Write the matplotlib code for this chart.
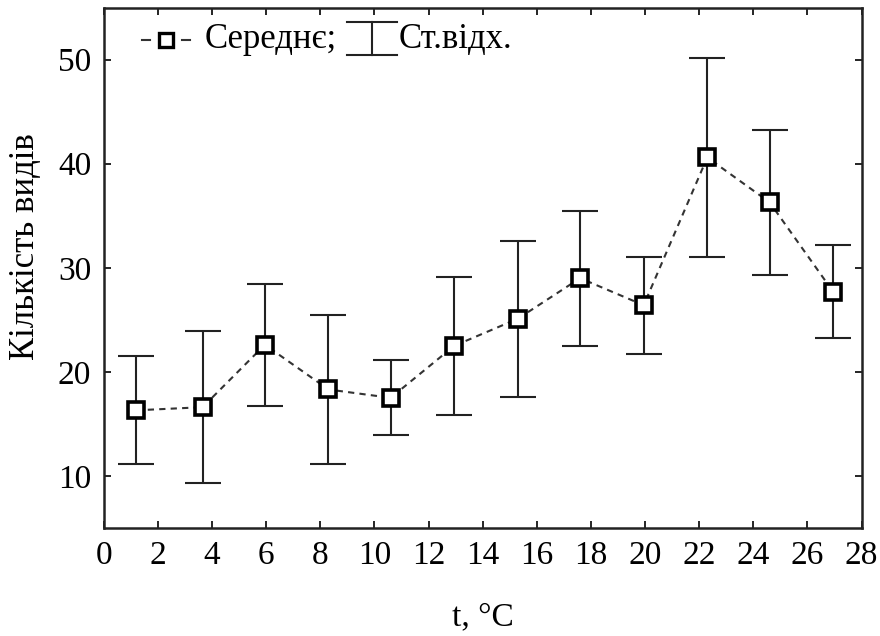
import matplotlib
matplotlib.use("Agg")
import matplotlib.pyplot as plt

# temperature (°C), mean number of species and its standard deviation
temp = [1.2, 3.65, 5.95, 8.3, 10.6, 12.95, 15.3, 17.6, 19.95, 22.3, 24.6, 26.95]
mean = [16.3, 16.6, 22.6, 18.3, 17.5, 22.5, 25.1, 29.0, 26.4, 40.6, 36.3, 27.7]
sd = [5.2, 7.3, 5.85, 7.2, 3.6, 6.65, 7.5, 6.5, 4.65, 9.55, 6.95, 4.45]

x_ticks = list(range(0, 29, 2))
y_ticks = [10, 20, 30, 40, 50]

plt.rcParams['font.family'] = ['Liberation Serif', 'DejaVu Serif']

fig = plt.figure(figsize=(8.8, 6.36), dpi=100)
ax = fig.add_axes([0.118, 0.170, 0.861, 0.818])

# mean values joined by a dashed line
ax.plot(temp, mean, linestyle=(0, (3, 2.5)), color='#333333', linewidth=1.5, zorder=2)
# standard deviation bars
ax.errorbar(temp, mean, yerr=sd, fmt='none', ecolor='#222222', elinewidth=1.5,
            capsize=13, capthick=1.5, zorder=3)
ax.plot(temp, mean, linestyle='none', marker='s', markersize=11,
        markerfacecolor='white', markeredgecolor='black', markeredgewidth=2.6, zorder=4)

ax.set_xlim(0, 28)
ax.set_ylim(5, 55)
ax.set_xticks(x_ticks)
ax.set_yticks(y_ticks)
ax.tick_params(direction='in', length=5, width=1.2, top=True, right=True,
               labelsize=24, pad=9, colors='black')
for s in ax.spines.values():
    s.set_linewidth(1.8)
    s.set_color('#222222')

ax.set_xlabel('t, °C', fontsize=24, labelpad=22)
ax.set_ylabel('Кількість видів', fontsize=25)
ax.yaxis.set_label_coords(-0.082, 0.54)

# legend drawn by hand, as in the original
tr = ax.transAxes
y_leg = 0.938
ax.plot([0.050, 0.061], [y_leg, y_leg], transform=tr, color='#333333', linewidth=1.5)
ax.plot([0.103, 0.114], [y_leg, y_leg], transform=tr, color='#333333', linewidth=1.5)
ax.plot([0.082], [y_leg], transform=tr, marker='s', markersize=10,
        markerfacecolor='white', markeredgecolor='black', markeredgewidth=2.4, clip_on=False)
ax.text(0.133, y_leg, 'Середнє;', transform=tr, fontsize=25, va='center', ha='left')
ax.plot([0.354, 0.354], [0.908, 0.973], transform=tr, color='#222222', linewidth=1.5)
ax.plot([0.321, 0.387], [0.973, 0.973], transform=tr, color='#222222', linewidth=1.5)
ax.plot([0.321, 0.387], [0.908, 0.908], transform=tr, color='#222222', linewidth=1.5)
ax.text(0.389, y_leg, 'Ст.відх.', transform=tr, fontsize=25, va='center', ha='left')

fig.savefig('out.png', dpi=100)
